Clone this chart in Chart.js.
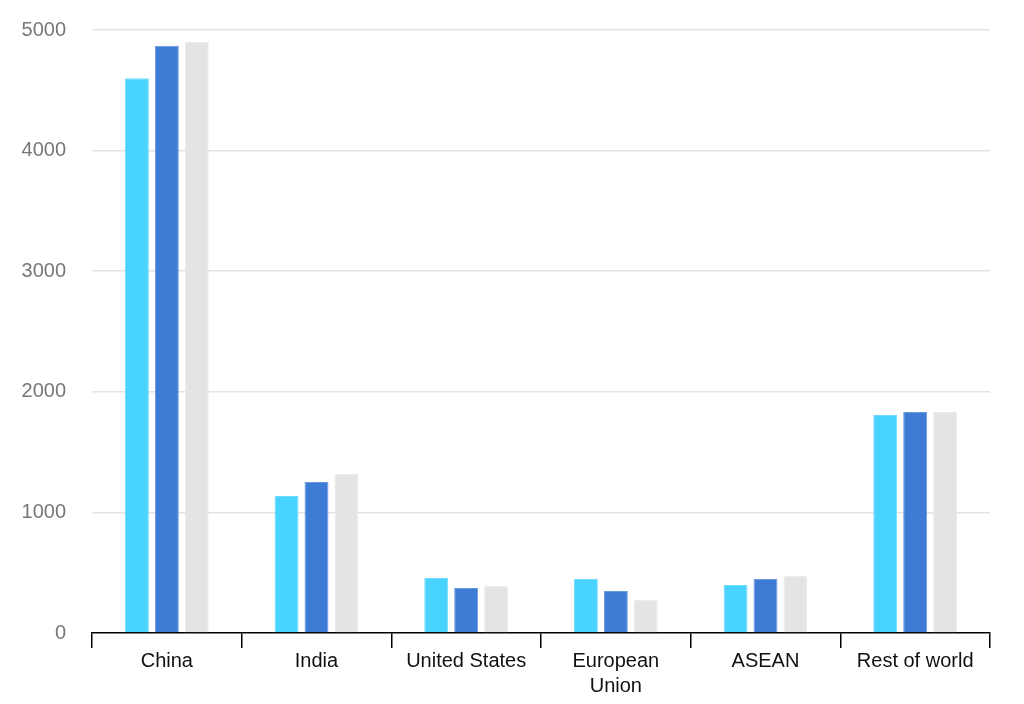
<!DOCTYPE html>
<html lang="en">
<head>
    <meta charset="UTF-8">
    <title>Regional bar chart</title>
    <style>
        * { margin: 0; padding: 0; box-sizing: border-box; }
        html, body { width: 1024px; height: 704px; background: #fff; font-family: "Liberation Sans", Arial, sans-serif; }
        .container { width: 1024px; height: 704px; }
    </style>
    <script src="https://cdn.jsdelivr.net/npm/chart.js"></script>
</head>
<body>
    <div class="container">
        <canvas id="barChart" width="1024" height="704"></canvas>
    </div>
    <script>
        const regions = ['China', 'India', 'United States', ['European', 'Union'], 'ASEAN', 'Rest of world'];
        const seriesA = [4600, 1136, 456, 448, 398, 1808];
        const seriesB = [4870, 1252, 373, 348, 448, 1833];
        const seriesC = [4900, 1318, 390, 274, 473, 1833];
        const yTicks = [0, 1000, 2000, 3000, 4000, 5000];

        const ctx = document.getElementById('barChart').getContext('2d');
        new Chart(ctx, {
            type: 'bar',
            data: {
                labels: regions,
                datasets: [
                    { data: seriesA, backgroundColor: '#48d4ff', borderColor: '#6fdcff', borderWidth: 1 },
                    { data: seriesB, backgroundColor: '#3d7bd5', borderColor: '#6a98e0', borderWidth: 1 },
                    { data: seriesC, backgroundColor: '#e4e4e4', borderColor: '#ececec', borderWidth: 1 }
                ]
            },
            options: {
                responsive: false,
                animation: false,
                events: [],
                layout: { padding: { top: 30, right: 34, left: 0, bottom: 0 } },
                datasets: { bar: { categoryPercentage: 0.6, barPercentage: 0.8 } },
                plugins: { legend: { display: false }, tooltip: { enabled: false } },
                scales: {
                    x: {
                        grid: { offset: true, drawOnChartArea: false, color: '#000', tickLength: 15, lineWidth: 1.5 },
                        border: { color: '#000', width: 1.5 },
                        ticks: { color: '#111', font: { family: 'Liberation Sans', size: 20, lineHeight: 1.25 }, padding: 1, maxRotation: 0 },
                        afterFit: (s) => { s.height = 71; }
                    },
                    y: {
                        min: 0,
                        max: 5000,
                        afterBuildTicks: (s) => { s.ticks = yTicks.map(v => ({ value: v })); },
                        grid: {
                            color: (c) => c.tick.value === 0 ? 'rgba(0,0,0,0)' : '#e3e3e3',
                            tickColor: 'rgba(0,0,0,0)',
                            tickLength: 24,
                            lineWidth: 1.5
                        },
                        border: { display: false },
                        ticks: { color: '#777', font: { family: 'Liberation Sans', size: 20 }, padding: 2, callback: (v) => String(v) },
                        afterFit: (s) => { s.width = 92; }
                    }
                }
            }
        });
    </script>
</body>
</html>
